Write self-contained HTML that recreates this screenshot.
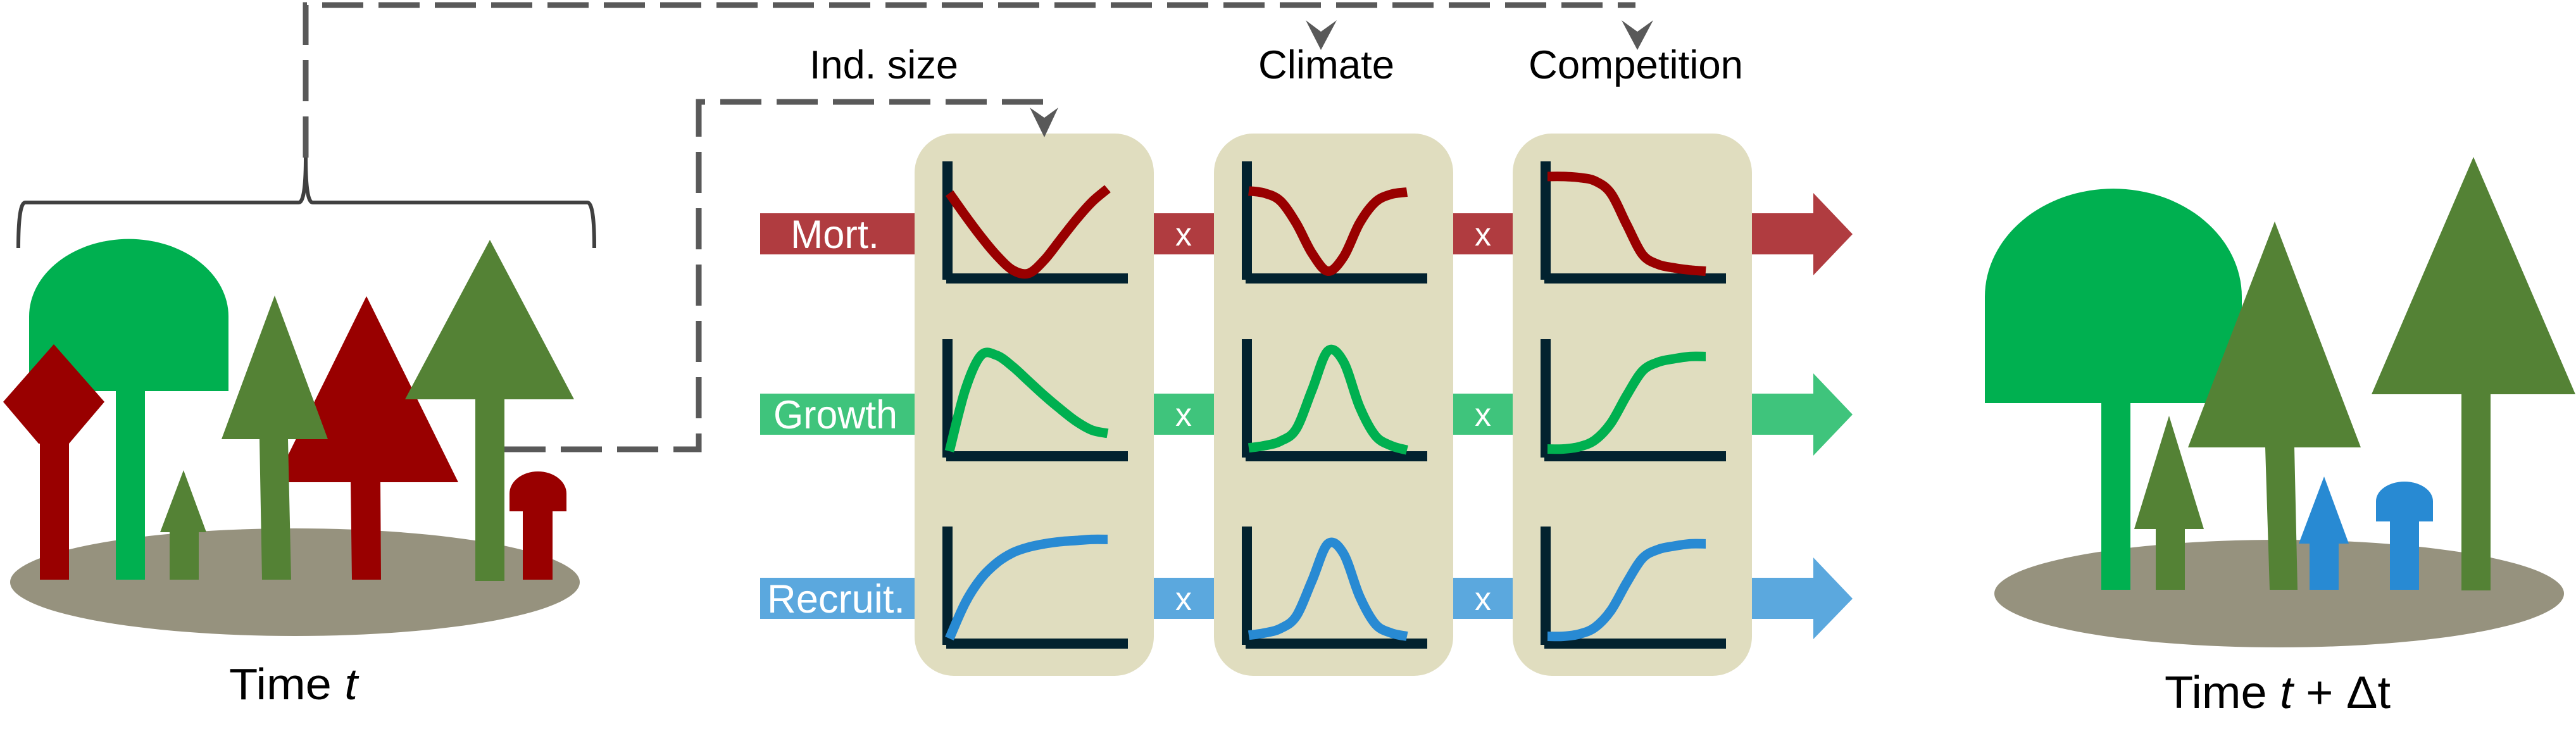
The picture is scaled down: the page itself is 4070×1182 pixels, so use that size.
<!DOCTYPE html>
<html><head><meta charset="utf-8"><style>
html,body{margin:0;padding:0;background:#fff;width:4070px;height:1182px;overflow:hidden}
svg{display:block}
text{font-family:"Liberation Sans",Arial,sans-serif}
</style></head><body>
<svg id="fig" width="4070" height="1182" viewBox="0 0 4070 1182" xmlns="http://www.w3.org/2000/svg">
<g fill="none" stroke="#595959" stroke-width="9" stroke-dasharray="65 24">
<path d="M483 249 V8 H2584"/>
<path d="M797 710 H1104 V161 H1650"/>
</g>
<path d="M29 392 Q29 320 40 320 H472 Q483 320 483 249 Q483 320 494 320 H928 Q939 320 939 392" fill="none" stroke="#404040" stroke-width="6"/>

<g>
<ellipse cx="466" cy="920" rx="450" ry="85" fill="#96927e"/>
<path d="M46 618 V500 A157 122 0 0 1 361 500 V618 Z" fill="#00b050"/>
<rect x="183" y="618" width="46" height="298" fill="#00b050"/>
<path d="M85 544 L165 635 L109 701 L61 701 L5 635 Z" fill="#990000"/>
<rect x="63" y="690" width="46" height="226" fill="#990000"/>
<path d="M579 468 L724 762 L601 762 L602 916 L556 916 L554 762 L434 762 Z" fill="#990000"/>
<path d="M290 743 L326 841 L314 841 L314 916 L268 916 L268 841 L253 841 Z" fill="#548235"/>
<path d="M434 467 L518 694 L455 694 L460 916 L414 916 L410 694 L350 694 Z" fill="#548235"/>
<path d="M774 379 L907 631 L797 631 L797 918 L751 918 L751 631 L640 631 Z" fill="#548235"/>
<path d="M805 808 V780 A45 35 0 0 1 895 780 V808 H873 V916 H826 V808 Z" fill="#990000"/>
<text x="362" y="1105" font-size="70" textLength="203" lengthAdjust="spacingAndGlyphs">Time <tspan font-style="italic">t</tspan></text>
</g>

<g>
<rect x="1201" y="337" width="1665" height="65" fill="#b03c40"/>
<path d="M2865 305 L2927 370 L2865 435 Z" fill="#b03c40"/>
<rect x="1201" y="622" width="1665" height="65" fill="#3fc47c"/>
<path d="M2865 590 L2927 655 L2865 720 Z" fill="#3fc47c"/>
<rect x="1201" y="913" width="1665" height="65" fill="#5ba8de"/>
<path d="M2865 881 L2927 946 L2865 1010 Z" fill="#5ba8de"/>
</g>
<g fill="#fff" font-size="63">
<text x="1249" y="392" textLength="140" lengthAdjust="spacingAndGlyphs">Mort.</text>
<text x="1222" y="677" textLength="196" lengthAdjust="spacingAndGlyphs">Growth</text>
<text x="1212" y="968" textLength="218" lengthAdjust="spacingAndGlyphs">Recruit.</text>
</g>
<g fill="#000" font-size="63">
<text x="1279" y="124" textLength="235" lengthAdjust="spacingAndGlyphs">Ind. size</text>
<text x="1988" y="124" textLength="215" lengthAdjust="spacingAndGlyphs">Climate</text>
<text x="2415" y="124" textLength="339" lengthAdjust="spacingAndGlyphs">Competition</text>
</g>
<g id="panels"></g>
<g fill="#595959">
<path d="M1627 170 L1650 186 L1672 170 L1650 217 Z"/>
<path d="M2063 32 L2087 50 L2112 32 L2087 79 Z"/>
<path d="M2562 32 L2587 50 L2612 32 L2587 79 Z"/>
</g>
<g id="xs" fill="#fff" font-size="52" text-anchor="middle"></g>

<g>
<ellipse cx="3601" cy="938" rx="450" ry="85" fill="#96927e"/>
<path d="M3136 637 V469 A203 171 0 0 1 3542 469 V637 Z" fill="#00b050"/>
<rect x="3320" y="630" width="46" height="302" fill="#00b050"/>
<path d="M3427 657 L3482 836 L3452 836 L3452 932 L3406 932 L3406 836 L3372 836 Z" fill="#548235"/>
<path d="M3594 350 L3730 707 L3625 707 L3630 932 L3586 932 L3579 707 L3457 707 Z" fill="#548235"/>
<path d="M3672 753 L3711 859 L3695 859 L3695 932 L3649 932 L3649 859 L3632 859 Z" fill="#288ad3"/>
<path d="M3754 824 V792 A45 31 0 0 1 3844 792 V824 H3822 V932 H3776 V824 Z" fill="#288ad3"/>
<path d="M3908 248 L4069 623 L3935 623 L3935 933 L3889 933 L3889 623 L3747 623 Z" fill="#548235"/>
<text x="3420" y="1119" font-size="72" textLength="357" lengthAdjust="spacingAndGlyphs">Time <tspan font-style="italic">t</tspan> + Δt</text>
</g>
</svg>
<script>
const xSamples = [0,0.1,0.2,0.3,0.4,0.5,0.6,0.7,0.8,0.9,1];
const mortSize = [0.72,0.52,0.33,0.16,0.03,0.0,0.12,0.30,0.48,0.64,0.76];
const mortClimate = [0.74,0.72,0.65,0.45,0.18,0.02,0.15,0.45,0.64,0.71,0.73];
const mortCompetition = [0.87,0.87,0.86,0.83,0.72,0.44,0.17,0.08,0.05,0.03,0.02];
const growthSize = [0.0,0.55,0.86,0.86,0.76,0.63,0.50,0.38,0.27,0.19,0.16];
const growthClimate = [0.03,0.05,0.09,0.20,0.55,0.90,0.80,0.40,0.14,0.05,0.01];
const growthCompetition = [0.02,0.02,0.04,0.10,0.25,0.50,0.72,0.80,0.83,0.85,0.85];
const recruitSize = [0.0,0.32,0.54,0.68,0.77,0.82,0.85,0.87,0.88,0.89,0.89];
const recruitClimate = [0.03,0.05,0.09,0.20,0.52,0.85,0.76,0.38,0.13,0.05,0.02];
const recruitCompetition = [0.02,0.02,0.04,0.10,0.25,0.50,0.72,0.80,0.83,0.85,0.85];

const NS='http://www.w3.org/2000/svg';
const panelX=[1445,1918,2390];
const rowBottom=[448,729,1025];
const rowColors=['#990000','#00b050','#288ad3'];
const cells=[[mortSize,mortClimate,mortCompetition],[growthSize,growthClimate,growthCompetition],[recruitSize,recruitClimate,recruitCompetition]];
const panelsG=document.getElementById('panels');
function mk(tag,attrs,parent){const e=document.createElementNS(NS,tag);for(const k in attrs)e.setAttribute(k,attrs[k]);parent.appendChild(e);return e;}
function sx(px,u){return px+55+u*250;}
function sy(rb,v){return rb-16-v*176;}
function pathFrom(pts){let d='M'+pts[0][0]+' '+pts[0][1];for(let i=0;i<pts.length-1;i++){const p0=pts[Math.max(0,i-1)],p1=pts[i],p2=pts[i+1],p3=pts[Math.min(pts.length-1,i+2)];const c1=[p1[0]+(p2[0]-p0[0])/6,p1[1]+(p2[1]-p0[1])/6],c2=[p2[0]-(p3[0]-p1[0])/6,p2[1]-(p3[1]-p1[1])/6];d+=' C'+c1[0].toFixed(1)+' '+c1[1].toFixed(1)+' '+c2[0].toFixed(1)+' '+c2[1].toFixed(1)+' '+p2[0].toFixed(1)+' '+p2[1].toFixed(1);}return d;}
const factorNames=['size','climate','competition'];
const rateNames=['mort','growth','recruit'];
panelX.forEach((px,c)=>{
  const p=mk('rect',{x:px,y:211,width:378,height:857,rx:62,ry:62,fill:'#e0ddbf'},panelsG);
  
  
  rowBottom.forEach((rb,r)=>{
    const ax=px+44;
    const va=mk('rect',{x:ax,y:rb-193,width:16,height:187,fill:'#02222f'},panelsG);
    
    
    const ha=mk('rect',{x:ax+6,y:rb-16,width:287,height:16,fill:'#02222f'},panelsG);
    
    
    const vals=cells[r][c];
    const pts=xSamples.map((u,i)=>[sx(px,u),sy(rb,vals[i])]);
    const cv=mk('path',{d:pathFrom(pts),fill:'none',stroke:rowColors[r],'stroke-width':15},panelsG);
    
    
  });
});
const xsG=document.getElementById('xs');
const bandMid=[370,655,946];
[1870,2343].forEach((x,c)=>{bandMid.forEach((y,r)=>{
  const t=mk('text',{x:x,y:y+18},xsG);
  t.textContent='x';
  
  
});});
</script>
</body></html>
